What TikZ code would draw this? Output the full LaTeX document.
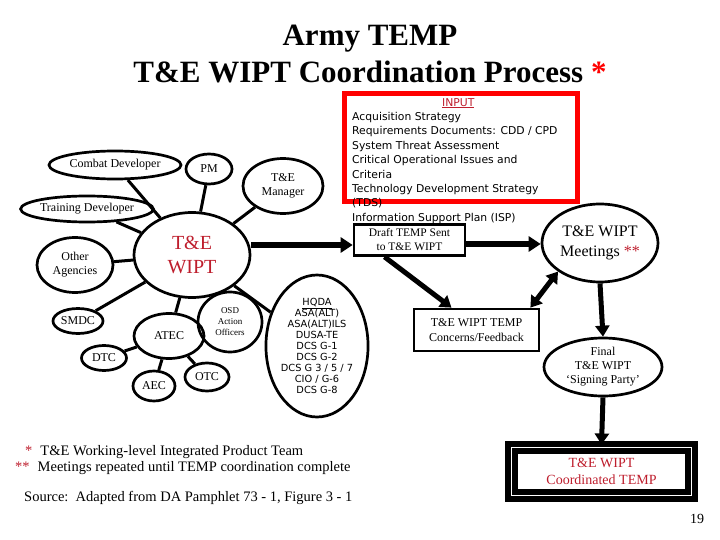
\documentclass[tikz,border=0pt]{standalone}
\usepackage{fontspec}
\setmainfont{Liberation Serif}
\newfontfamily\sansf{DejaVu Sans}
\usetikzlibrary{shapes.geometric,arrows.meta}
\definecolor{tred}{RGB}{190,30,45}
\begin{document}
\begin{tikzpicture}[x=1pt,y=-1pt,
  el/.style={draw,ellipse,line width=2.7pt,inner sep=0pt,align=center,font=\fontsize{12}{14}\selectfont},
  bx/.style={draw,rectangle,line width=2.7pt,align=center,font=\fontsize{12}{14.5}\selectfont},
  spoke/.style={line width=3pt},
  big/.style={line width=6pt,-{Triangle[length=12pt,width=15pt]}},
  mid/.style={line width=5pt,-{Triangle[length=11pt,width=14pt]}}]
\useasboundingbox (0,0) rectangle (720,540);
\node[font=\bfseries\fontsize{31}{37}\selectfont,align=center] (title) at (370,54) {Army TEMP\\T\&E WIPT Coordination Process \textcolor{red}{*}};
% spider
\node[el,minimum width=116pt,minimum height=85pt,text=tred,font=\fontsize{20}{24}\selectfont] (w) at (192,255) {T\&E\\WIPT};
\node[el,minimum width=132pt,minimum height=28pt] (cd) at (115,165) {Combat Developer};
\node[el,minimum width=46pt,minimum height=30pt] (pm) at (209,169) {PM};
\node[el,minimum width=80pt,minimum height=55pt] (tm) at (283,186) {T\&E\\Manager};
\node[el,minimum width=132pt,minimum height=26pt] (td) at (87,209) {Training Developer};
\node[el,minimum width=76pt,minimum height=55pt] (oa) at (75,265) {Other\\Agencies};
\node[el,minimum width=50pt,minimum height=25pt] (sm) at (78,321) {SMDC};
\node[el,minimum width=70pt,minimum height=45pt] (at) at (169,336) {ATEC};
\node[el,minimum width=64pt,minimum height=60pt,font=\fontsize{9}{11}\selectfont] (osd) at (230,322) {OSD\\Action\\Officers};
\node[el,minimum width=82pt,minimum height=142pt,font=\sansf\fontsize{9.8}{11}\selectfont] (hq) at (317,346) {\underline{HQDA}\\ASA(ALT)\\ASA(ALT)ILS\\DUSA-TE\\DCS G-1\\DCS G-2\\DCS G 3 / 5 / 7\\CIO / G-6\\DCS G-8};
\node[el,minimum width=45pt,minimum height=25pt] (dtc) at (104,358) {DTC};
\node[el,minimum width=42pt,minimum height=30pt] (aec) at (154,386) {AEC};
\node[el,minimum width=44pt,minimum height=28pt] (otc) at (207,377) {OTC};
\foreach \n in {cd,pm,tm,td,oa,sm,at,hq} \draw[spoke] (w) -- (\n);
\draw[line width=0.7pt] (w) -- (osd);
\foreach \n in {dtc,aec,otc} \draw[spoke] (at) -- (\n);
% input box
\node[draw=red,line width=5pt,minimum width=233pt,minimum height=108pt] (inbox) at (460.5,148) {};
\node[font=\sansf\fontsize{10.8}{14.4}\selectfont,align=left,anchor=north west,inner sep=0pt] (intext) at (352,98) {\hspace*{90pt}\textcolor{tred}{\underline{INPUT}}\\Acquisition Strategy\\Requirements Documents: CDD / CPD\\System Threat Assessment\\Critical Operational Issues and\\Criteria\\Technology Development Strategy\\(TDS)\\Information Support Plan (ISP)};
% flow
\node[bx,fill=white,minimum width=111pt,minimum height=31pt,font=\fontsize{11.5}{14}\selectfont] (dr) at (409.5,240) {Draft TEMP Sent\\to T\&E WIPT};
\node[el,minimum width=116pt,minimum height=78pt,font=\fontsize{16}{20}\selectfont] (mt) at (600,243) {T\&E WIPT\\Meetings \textcolor{tred}{**}};
\node[bx,minimum width=125pt,minimum height=42pt] (cf) at (476.5,330) {T\&E WIPT TEMP\\Concerns/Feedback};
\node[el,minimum width=118pt,minimum height=58pt,font=\fontsize{12}{14}\selectfont] (fn) at (603,367) {Final\\T\&E WIPT\\`Signing Party'};
\node[draw,rectangle,line width=6pt,double,double distance=1.5pt,minimum width=180pt,minimum height=48pt,align=center,text=tred,font=\fontsize{14}{17}\selectfont] (co) at (601.5,471.5) {T\&E WIPT\\Coordinated TEMP};
\draw[big] (w.east |- 0,245) -- (dr.west |- 0,245);
\draw[big] (dr.east |- 0,244) -- (mt.west |- 0,244);
\draw[mid] ([xshift=-25pt]dr.south) -- ([xshift=-25pt]cf.north);
\draw[line width=5pt,{Triangle[length=11pt,width=14pt]}-{Triangle[length=11pt,width=14pt]}] ([xshift=-10pt]cf.north east) -- (mt.south west);
\draw[mid] (mt.south) -- (fn.north);
\draw[mid] (fn.south) -- (co.north);
% notes
\node[anchor=west,font=\fontsize{14.5}{16}\selectfont,inner sep=0pt] (n1) at (19,452) {\textcolor{tred}{\hspace*{6pt}*}\hspace{8pt}T\&E Working-level Integrated Product Team};
\node[anchor=west,font=\fontsize{14.5}{16}\selectfont,inner sep=0pt] (n2) at (15,468) {\textcolor{tred}{**}\hspace{8pt}Meetings repeated until TEMP coordination complete};
\node[anchor=west,font=\fontsize{14.5}{16}\selectfont,inner sep=0pt] (src) at (24,498) {Source:\ \ Adapted from DA Pamphlet 73 - 1, Figure 3 - 1};
\node[font=\fontsize{14}{16}\selectfont] (pg) at (697,519) {19};
\end{tikzpicture}
\end{document}
